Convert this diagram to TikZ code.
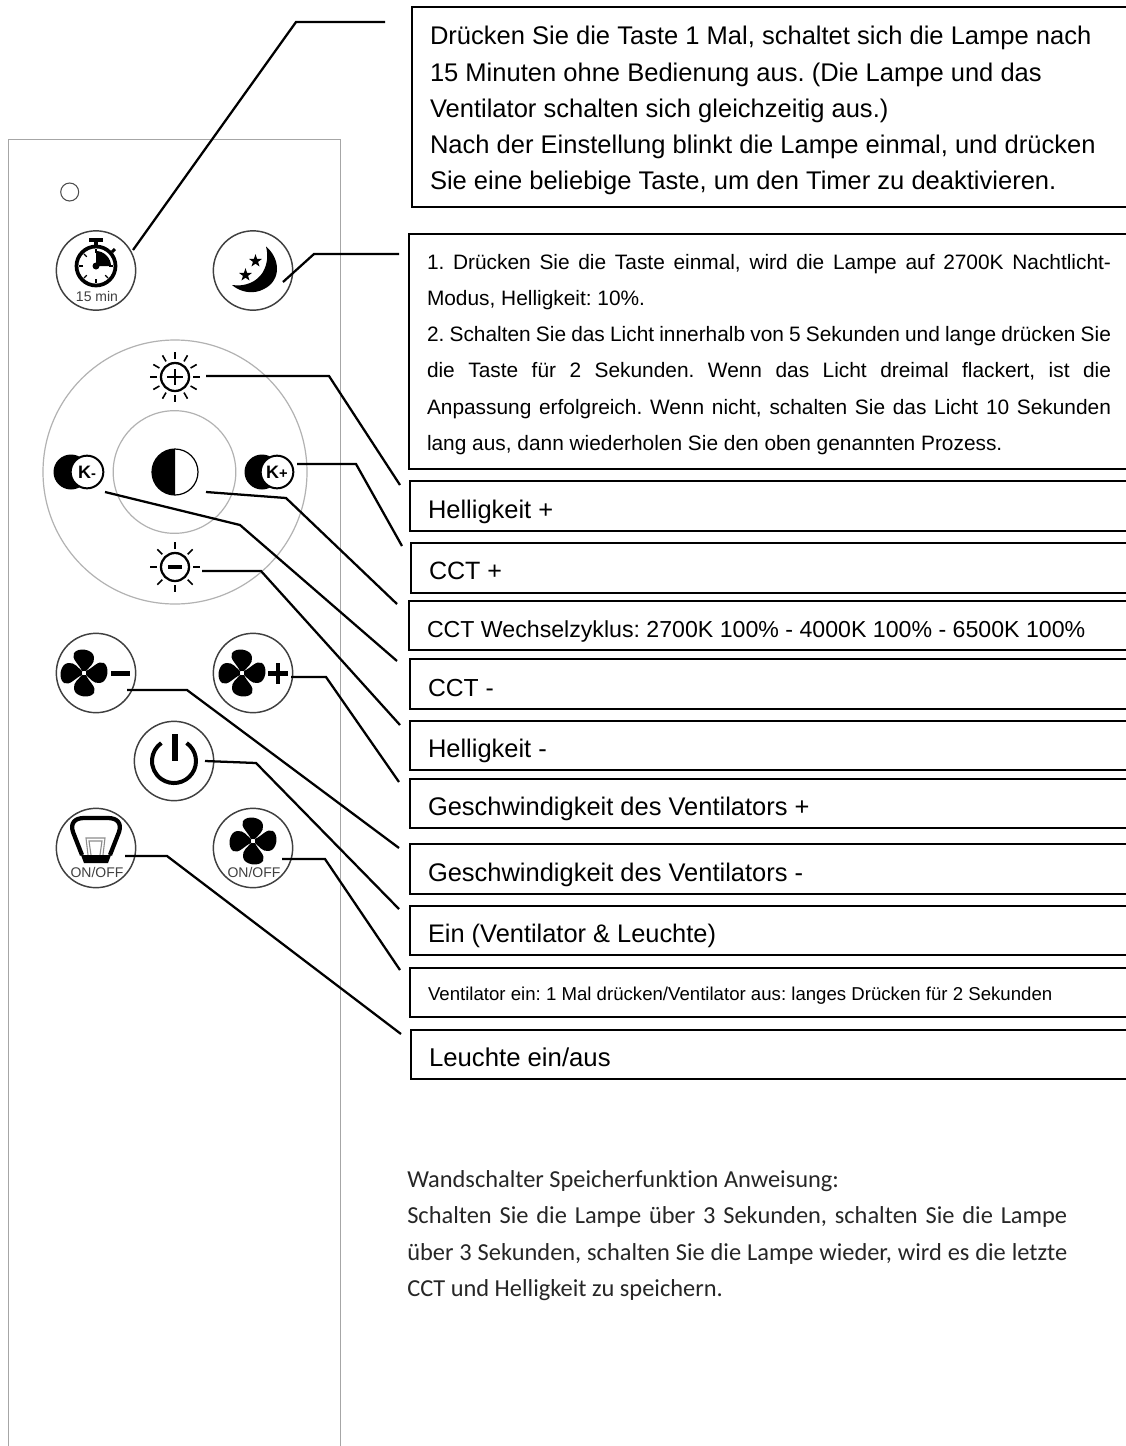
\documentclass[tikz,border=0pt]{standalone}
\usepackage{fontspec}
\setmainfont{Liberation Sans}
\newfontfamily\carlito[Ligatures=NoCommon]{Carlito}
\usetikzlibrary{shapes.geometric}
\newcommand{\fsz}[2]{\fontsize{#1}{#2}\selectfont}
\newcommand{\jline}[2]{\makebox[#1][s]{#2}}
\frenchspacing
\tikzset{
  x=0.75pt,y=-0.75pt,
  boxframe/.style={draw=black,line width=1.8pt,rectangle,inner ysep=0pt,outer sep=0pt,anchor=north west,align=flush left},
  lead/.style={draw=black,line width=1.7pt,line join=miter},
  panel/.style={draw=black!35,line width=0.9pt},
  btn/.style={draw=black!75,line width=1.1pt,fill=white},
  ring/.style={draw=black!30,line width=0.9pt},
  anchorpt/.style={inner sep=0pt,minimum size=0pt},
  pics/fanshape/.style={code={
    \foreach \a in {0,90,180,270}{
      \fill[black,rotate=\a] (2,-2) .. controls (5,-6) and (11,-9) .. (10,-16)
        .. controls (9,-24) and (-6,-26) .. (-10,-20)
        .. controls (-13,-14) and (-5,-9) .. (-2,-2) -- cycle;
    }
    \fill[white] (0,0) circle[radius=2];
  }},
  pics/starshape/.style={code={
    \fill[black] (90:-6.8) -- (54:-2.7) -- (18:-6.8) -- (-18:-2.7) -- (-54:-6.8) -- (-90:-2.7) -- (-126:-6.8) -- (-162:-2.7) -- (-198:-6.8) -- (-234:-2.7) -- cycle;
  }},
}
% name, x, top, bottom, text x, baseline, size(pt), text
\newcommand{\lbox}[8]{%
  \pgfmathsetlengthmacro\bw{(1134-#2)*0.75pt}%
  \pgfmathsetlengthmacro\bh{(#4-#3)*0.75pt}%
  \pgfmathsetlengthmacro\bs{(#5-#2)*0.75pt}%
  \pgfmathsetlengthmacro\btw{(1134-#2)*0.75pt-2*\bs}%
  \pgfmathsetlengthmacro\bd{1.5pt}%
  \pgfmathsetlengthmacro\bhh{1.5pt+2*(#6-(#3+#4)/2)*0.75pt}%
  \node[boxframe,minimum width=\bw,minimum height=\bh,inner xsep=\bs,text width=\btw,text height=\bhh,text depth=\bd,font=\fsz{#7}{#7}] (#1) at (#2,#3) {#8};%
}
\begin{document}
\begin{tikzpicture}
\useasboundingbox (0,0) rectangle (1126,1446);
\fill[white] (0,0) rectangle (1126,1446);

% remote control body
\draw[panel] (8.5,1446) -- (8.5,139.5) -- (340.5,139.5) -- (340.5,1446);
\draw[black!70,line width=0.8pt] (69.7,192) circle[radius=9];

% buttons
\node[btn,circle,minimum size=59.5pt,inner sep=0pt] (timer) at (96,270.5) {};
\node[btn,circle,minimum size=59.5pt,inner sep=0pt] (moon) at (253,270.5) {};
\node[btn,circle,minimum size=59.5pt,inner sep=0pt] (fanminus) at (96,673) {};
\node[btn,circle,minimum size=59.5pt,inner sep=0pt] (fanplus) at (253,673) {};
\node[btn,circle,minimum size=59.5pt,inner sep=0pt] (power) at (174,761) {};
\node[btn,circle,minimum size=59.5pt,inner sep=0pt] (lampbtn) at (96,848) {};
\node[btn,circle,minimum size=59.5pt,inner sep=0pt] (fanbtn) at (253,848) {};

% wheel
\node[ring,circle,minimum size=198pt,inner sep=0pt] (wheel) at (175,472) {};
\node[ring,circle,minimum size=92pt,inner sep=0pt] (wheelin) at (174.5,472) {};

% stopwatch icon
\begin{scope}[shift={(96,266)}]
  \draw[black,line width=2.8pt] (0,0) circle[radius=19.5];
  \fill[black] (0,0) -- (0,-15) .. controls (8,-15) and (15,-8) .. (15,0) -- cycle;
  \fill[black] (0,0) circle[radius=3.5];
  \fill[black] (-7,-28.5) rectangle (7,-24.5);
  \fill[black] (-2,-25) rectangle (2,-20);
  \draw[black,line width=2.2pt] (16,-14) -- (19,-17);
  \foreach \a in {0,90,180,270,45,135,225}{
    \draw[black,line width=0.9pt,rotate=\a] (0,-13) -- (0,-17);
  }
\end{scope}
\node[anchorpt,font=\fsz{10.5}{11},text=black!75] (t15) at (97,296) {15 min};

% moon icon
\fill[black] (266,246.5) .. controls (280,258) and (282,280) .. (264,289)
  .. controls (253,295) and (240,292) .. (232,285)
  .. controls (245,287) and (257,282) .. (263,272)
  .. controls (268,263) and (268,254) .. (266,246.5) -- cycle;
\path (255.5,261) pic {starshape};
\path (245.5,275) pic {starshape};

% sun plus
\begin{scope}[shift={(175,377)}]
  \draw[black,line width=1.7pt] (0,0) circle[radius=14];
  \draw[black,line width=2.2pt] (-8,0) -- (8,0) (0,-8) -- (0,8);
  \foreach \a in {0,30,...,330}{
    \draw[black,line width=1.2pt,rotate=\a] (0,-18) -- (0,-25);
  }
\end{scope}
% sun minus
\begin{scope}[shift={(175,567)}]
  \draw[black,line width=1.7pt] (0,0) circle[radius=14];
  \draw[black,line width=2.4pt] (-7,0) -- (7,0);
  \foreach \a in {0,45,...,315}{
    \draw[black,line width=1.2pt,rotate=\a] (0,-18) -- (0,-25);
  }
\end{scope}
% half circle
\fill[black] (175,449) arc[start angle=-90,end angle=-270,radius=23] -- cycle;
\draw[black,line width=0.9pt] (175,472) circle[radius=23];
% K- and K+
\fill[black] (71,472) circle[radius=17.5];
\node[circle,fill=white,draw=black,line width=1.5pt,minimum size=24.5pt,inner sep=0pt,font=\bfseries\fsz{13.5}{13.5}] (kminus) at (87,472) {K\fsz{11}{11}-};
\fill[black] (262,472) circle[radius=17.5];
\node[circle,fill=white,draw=black,line width=1.5pt,minimum size=24.5pt,inner sep=0pt,font=\bfseries\fsz{13.5}{13.5}] (kplus) at (277,472) {K\fsz{11}{11}+};

% fans
\path (84,673) pic {fanshape};
\fill[black] (111,671) rectangle (130,676);
\path (242,673) pic {fanshape};
\fill[black] (268,671) rectangle (288,675.5);
\fill[black] (275.5,663) rectangle (280,684);
\path (253,841) pic {fanshape};
\node[anchorpt,font=\fsz{10.5}{11},text=black!75] (onoff2) at (254,872) {ON/OFF};

% power
\draw[black,line width=3pt] (186.6,743) arc[start angle=-55,end angle=235,radius=22];
\fill[black] (171.5,734) rectangle (177.5,761);

% lamp
\draw[black,line width=3.2pt,line join=round] (82,855) -- (73,832) .. controls (70,823) and (75,818) .. (84,818) -- (108,818) .. controls (117,818) and (122,823) .. (119,832) -- (110,855);
\draw[black!45,line width=0.8pt] (88,855) -- (86,838) -- (105,838) -- (103,855);
\draw[black!45,line width=0.8pt] (91,855) -- (89,841) -- (102,841) -- (100,855);
\fill[black] (81,855) -- (111,855) -- (108,863) -- (84,863) -- cycle;
\node[anchorpt,font=\fsz{10.5}{11},text=black!75] (onoff1) at (97,872) {ON/OFF};

% text boxes
\pgfmathsetlengthmacro\bwa{(1134-412)*0.75pt}
\node[boxframe,minimum width=\bwa,minimum height=150pt,inner xsep=13.5pt,text width=\bwa-27pt,font=\fsz{19.15}{27.2}] (b1) at (412,7) {\rule{0pt}{19.5pt}Drücken Sie die Taste 1 Mal, schaltet sich die Lampe nach\\15 Minuten ohne Bedienung aus. (Die Lampe und das\\Ventilator schalten sich gleichzeitig aus.)\\Nach der Einstellung blinkt die Lampe einmal, und drücken\\Sie eine beliebige Taste, um den Timer zu deaktivieren.};
\pgfmathsetlengthmacro\bwb{(1134-409)*0.75pt}
\node[boxframe,minimum width=\bwb,minimum height=176.25pt,inner xsep=13.5pt,text width=\bwb-27pt,font=\fsz{15.65}{27.15}] (b2) at (409,234) {\rule{0pt}{15.7pt}\jline{513pt}{1. Drücken Sie die Taste einmal, wird die Lampe auf 2700K Nachtlicht-}\\Modus, Helligkeit: 10\%.\\\jline{513pt}{2. Schalten Sie das Licht innerhalb von 5 Sekunden und lange drücken Sie}\\\jline{513pt}{die Taste für 2 Sekunden. Wenn das Licht dreimal flackert, ist die}\\\jline{513pt}{Anpassung erfolgreich. Wenn nicht, schalten Sie das Licht 10 Sekunden}\\lang aus, dann wiederholen Sie den oben genannten Prozess.};
\lbox{b3}{410}{481}{531}{428}{518}{19.1}{Helligkeit +}
\lbox{b4}{411}{543}{593}{429}{579}{18.8}{CCT +}
\lbox{b5}{409}{601}{650}{427}{637}{17.36}{CCT Wechselzyklus: 2700K 100\% - 4000K 100\% - 6500K 100\%}
\lbox{b6}{410}{659}{709}{428}{696}{18.5}{CCT -}
\lbox{b7}{410}{721}{770}{428}{757}{19.1}{Helligkeit -}
\lbox{b8}{410}{779}{828}{428}{815}{19.1}{Geschwindigkeit des Ventilators +}
\lbox{b9}{410}{844}{894}{428}{881}{19.1}{Geschwindigkeit des Ventilators -}
\lbox{b10}{410}{906}{955}{428}{942}{19.05}{Ein (Ventilator \& Leuchte)}
\lbox{b11}{410}{968}{1017}{428}{1000}{13.97}{Ventilator ein: 1 Mal drücken/Ventilator aus: langes Drücken für 2 Sekunden}
\lbox{b12}{411}{1030}{1079}{429}{1066}{19.3}{Leuchte ein/aus}

% connector end points
\coordinate (a1) at (133,250);  \coordinate (e1) at (385,22);
\coordinate (a2) at (283,282);  \coordinate (e2) at (399,254);
\coordinate (a3) at (206,376);  \coordinate (e3) at (400,485);
\coordinate (a4) at (297,464);  \coordinate (e4) at (402,546);
\coordinate (a5) at (206,492);  \coordinate (e5) at (397,604);
\coordinate (a6) at (105,492);  \coordinate (e6) at (397,661);
\coordinate (a7) at (202,571);  \coordinate (e7) at (400,725);
\coordinate (a8) at (291,677);  \coordinate (e8) at (399,782);
\coordinate (a9) at (127,690);  \coordinate (e9) at (399,848);
\coordinate (a10) at (205,761); \coordinate (e10) at (399,909);
\coordinate (a11) at (282,859); \coordinate (e11) at (400,970);
\coordinate (a12) at (125,856); \coordinate (e12) at (401,1034);
\draw[lead] (a1) -- (296,22) -- (e1);
\draw[lead] (a2) -- (314,254) -- (e2);
\draw[lead] (a3) -- (329,376) -- (e3);
\draw[lead] (a4) -- (356,464) -- (e4);
\draw[lead] (a5) -- (286,498) -- (e5);
\draw[lead] (a6) -- (240,525) -- (e6);
\draw[lead] (a7) -- (261,571) -- (e7);
\draw[lead] (a8) -- (326,677) -- (e8);
\draw[lead] (a9) -- (187,690) -- (e9);
\draw[lead] (a10) -- (256,763) -- (e10);
\draw[lead] (a11) -- (325,859) -- (e11);
\draw[lead] (a12) -- (167,856) -- (e12);

% bottom note
\node[anchor=north west,inner sep=0pt,align=flush left,font=\carlito\fsz{18.3}{27.3},text=black!85] (note) at (407,1170) {Wandschalter Speicherfunktion Anweisung:\\\jline{495pt}{Schalten Sie die Lampe über 3 Sekunden, schalten Sie die Lampe}\\\jline{495pt}{über 3 Sekunden, schalten Sie die Lampe wieder, wird es die letzte}\\CCT und Helligkeit zu speichern.};
\end{tikzpicture}
\end{document}
